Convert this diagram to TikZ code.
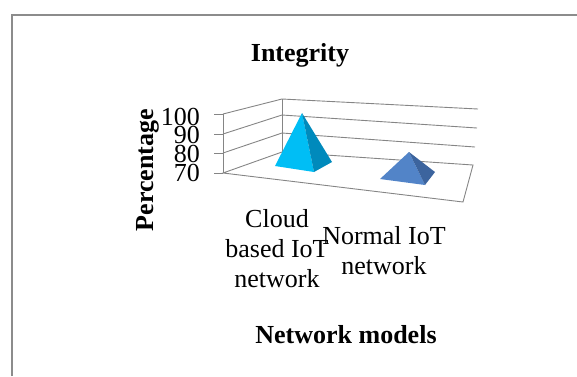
\documentclass[tikz,border=0pt]{standalone}
\usepackage{fontspec}
\setmainfont{Liberation Serif}
\begin{document}
\begin{tikzpicture}[x=1pt,y=-1pt,
  grid/.style={draw=black!48, line width=0.9pt},
  frameline/.style={draw=black!45, line width=1.4pt},
  lbl/.style={font=\fontsize{26}{30}\selectfont, inner sep=0pt, align=center},
  boldlbl/.style={font=\fontsize{26}{30}\selectfont\bfseries, inner sep=0pt}]
\useasboundingbox (0,0) rectangle (577,376);

% outer chart frame
\draw[frameline] (12,376) -- (12,15) -- (577,15);

% wall corners
\coordinate (L100) at (223,114); \coordinate (C100) at (282,99);  \coordinate (R100) at (478,109);
\coordinate (L90)  at (223,134); \coordinate (C90)  at (282,115); \coordinate (R90)  at (477,128);
\coordinate (L80)  at (223,153); \coordinate (C80)  at (282,133); \coordinate (R80)  at (475,147);
\coordinate (L70)  at (223,173); \coordinate (C70)  at (282,152); \coordinate (R70)  at (473,165);
\coordinate (F70)  at (463,202);

% gridlines on side and back walls
\foreach \v in {100,90,80} {
  \draw[grid] (L\v) -- (C\v) -- (R\v);
  \draw[grid] (L\v) -- ++(-9,0);
}
% floor
\draw[grid] (L70) -- (C70) -- (R70) -- (F70) -- cycle;
\draw[grid] (L70) -- ++(-9,0);
% wall edges
\draw[grid] (L100) -- (L70);
\draw[grid] (C100) -- (C70);

% axis tick labels
\node[lbl, anchor=base east] (t100) at (200,125) {100};
\node[lbl, anchor=base east] (t90)  at (200,143) {90};
\node[lbl, anchor=base east] (t80)  at (200,162) {80};
\node[lbl, anchor=base east] (t70)  at (200,181) {70};

% pyramid: cloud based IoT network
\coordinate (p1top) at (302,113);
\coordinate (p1a) at (275,166);
\coordinate (p1b) at (314,172);
\coordinate (p1c) at (332,162);
\fill[fill={rgb,255:red,0;green,190;blue,245}] (p1top) -- (p1a) -- (p1b) -- cycle;
\fill[fill={rgb,255:red,0;green,138;blue,188}] (p1top) -- (p1b) -- (p1c) -- cycle;

% pyramid: normal IoT network
\coordinate (p2top) at (409,152);
\coordinate (p2a) at (380,179);
\coordinate (p2b) at (425,185);
\coordinate (p2c) at (435,172);
\fill[fill={rgb,255:red,82;green,132;blue,200}] (p2top) -- (p2a) -- (p2b) -- cycle;
\fill[fill={rgb,255:red,60;green,100;blue,158}] (p2top) -- (p2b) -- (p2c) -- cycle;

% titles and category labels
\node[boldlbl, anchor=base] (title) at (300,61) {Integrity};
\node[boldlbl, anchor=base, rotate=90] (ytitle) at (153,170) {Percentage};
\node[lbl, anchor=north] (cat1) at (277,209) {Cloud\\based IoT\\network};
\node[lbl, anchor=north] (cat2) at (384,226) {Normal IoT\\network};
\node[boldlbl, anchor=base] (xtitle) at (346,343) {Network models};
\end{tikzpicture}
\end{document}
